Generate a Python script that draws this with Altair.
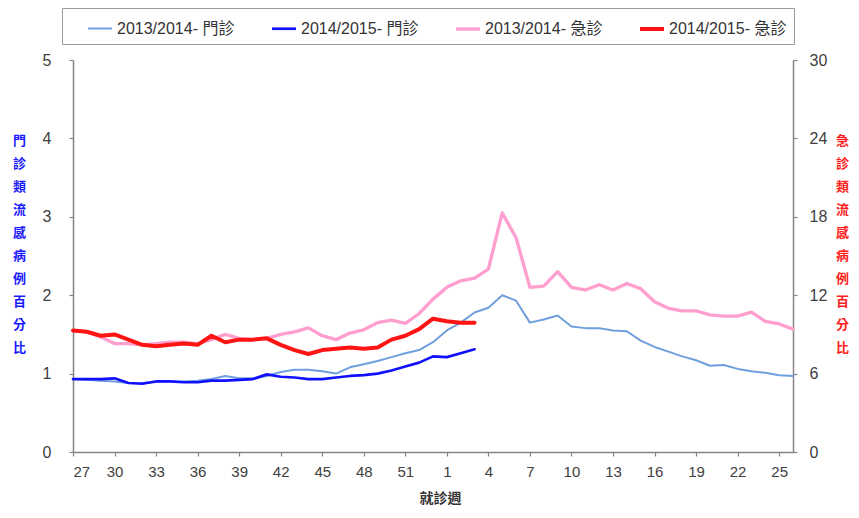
import altair as alt
import pandas as pd

# x positions: surveillance weeks 27..53 then 1..26
weeks = list(range(27, 54)) + list(range(1, 27))

# 2013/2014 outpatient (left axis, %)
op_1314 = [0.93, 0.92, 0.91, 0.90, 0.88, 0.88, 0.90, 0.90, 0.90, 0.91,
           0.93, 0.97, 0.94, 0.94, 0.97, 1.02, 1.05, 1.05, 1.03, 1.00,
           1.08, 1.12, 1.16, 1.21, 1.26, 1.30, 1.40, 1.55, 1.65, 1.78,
           1.84, 2.00, 1.93, 1.65, 1.69, 1.74, 1.60, 1.58, 1.58, 1.55,
           1.54, 1.42, 1.34, 1.28, 1.22, 1.17, 1.10, 1.11, 1.06, 1.03,
           1.01, 0.98, 0.97]
# 2014/2015 outpatient (left axis, %)
op_1415 = [0.93, 0.93, 0.93, 0.94, 0.88, 0.87, 0.90, 0.90, 0.89, 0.89,
           0.91, 0.91, 0.92, 0.93, 0.99, 0.96, 0.95, 0.93, 0.93, 0.95,
           0.97, 0.98, 1.00, 1.04, 1.09, 1.14, 1.22, 1.21, 1.26, 1.31]
# 2013/2014 A&E (right axis, %)
ae_1314 = [9.3, 9.2, 8.8, 8.3, 8.3, 8.2, 8.3, 8.4, 8.4, 8.3,
           8.6, 9.0, 8.7, 8.6, 8.7, 9.0, 9.2, 9.5, 8.9, 8.6,
           9.1, 9.35, 9.9, 10.1, 9.85, 10.6, 11.7, 12.6, 13.1, 13.3,
           14.0, 18.3, 16.4, 12.6, 12.7, 13.8, 12.6, 12.4, 12.8, 12.4,
           12.9, 12.5, 11.5, 11.0, 10.8, 10.8, 10.5, 10.4, 10.4, 10.7,
           10.0, 9.8, 9.4]
# 2014/2015 A&E (right axis, %)
ae_1415 = [9.3, 9.2, 8.9, 9.0, 8.6, 8.2, 8.1, 8.2, 8.3, 8.2,
           8.9, 8.4, 8.6, 8.6, 8.7, 8.2, 7.8, 7.5, 7.8, 7.9,
           8.0, 7.9, 8.0, 8.6, 8.9, 9.4, 10.2, 10.0, 9.9, 9.9]

series_names = ["2013/2014- 門診", "2014/2015- 門診", "2013/2014- 急診", "2014/2015- 急診"]
series_colors = ["#6f9fdc", "#1010ff", "#ff9fcf", "#ff1414"]
series_widths = [2, 4, 2, 4]

left_ticks = [0, 1, 2, 3, 4, 5]
right_ticks = [0, 6, 12, 18, 24, 30]
x_ticks = list(range(0, 53, 3))


def long(values, name):
    return [{"idx": i, "週": weeks[i], "系列": name, "值": v} for i, v in enumerate(values)]


left_df = pd.DataFrame(long(op_1314, series_names[0]) + long(op_1415, series_names[1]))
right_df = pd.DataFrame(long(ae_1314, series_names[2]) + long(ae_1415, series_names[3]))

LAT = "Liberation Sans, 'Noto Sans CJK TC'"
CJK = "'Noto Sans CJK TC', 'Noto Sans CJK SC'"

week_label_expr = "[" + ",".join(str(w) for w in weeks) + "][datum.value]"

x_enc = alt.X(
    "idx:Q",
    scale=alt.Scale(domain=[0, 52], nice=False, zero=False),
    axis=alt.Axis(
        values=x_ticks, labelExpr=week_label_expr, title="就診週",
        titleFont=CJK, titleFontSize=14, titleFontWeight="bold", titleColor="#333333",
        titleX=367, titleY=46, titleAlign="center", titleBaseline="middle",
        labelFontSize=15, tickSize=4, labelPadding=8, grid=False,
    ),
)

legend = alt.Legend(
    orient="none", legendX=-11, legendY=-52, direction="horizontal", columns=4,
    title=None, symbolType="stroke", symbolSize=576, labelFontSize=16,
    labelFont=LAT, labelColor="#333333", columnPadding=18, padding=7,
    symbolOffset=17, strokeColor="#9a9a9a", labelLimit=300, labelOffset=3,
)

color_enc = alt.Color("系列:N", scale=alt.Scale(domain=series_names, range=series_colors), legend=legend)
width_enc = alt.StrokeWidth("系列:N", scale=alt.Scale(domain=series_names, range=series_widths), legend=legend)

left = alt.Chart(left_df).mark_line(strokeJoin="round", strokeCap="round").encode(
    x=x_enc,
    y=alt.Y(
        "值:Q",
        scale=alt.Scale(domain=[0, 5], nice=False),
        axis=alt.Axis(
            orient="left", values=left_ticks, grid=False,
            title=list("門診類流感病例百分比"), titleFont=CJK, titleFontSize=13,
            titleFontWeight="bold", titleColor="#1a1aff", titleAngle=0,
            titleLineHeight=23, titleX=-54, titleY=80, titleAlign="center",
            titleBaseline="middle", labelFontSize=16, tickSize=4, labelPadding=18,
        ),
    ),
    color=color_enc,
    strokeWidth=width_enc,
    detail="系列:N",
)

right = alt.Chart(right_df).mark_line(strokeJoin="round", strokeCap="round").encode(
    x=x_enc,
    y=alt.Y(
        "值:Q",
        scale=alt.Scale(domain=[0, 30], nice=False),
        axis=alt.Axis(
            orient="right", values=right_ticks, grid=False,
            title=list("急診類流感病例百分比"), titleFont=CJK, titleFontSize=13,
            titleFontWeight="bold", titleColor="#ff2020", titleAngle=0,
            titleLineHeight=23, titleX=49, titleY=80, titleAlign="center",
            titleBaseline="middle", labelFontSize=16, tickSize=4, labelPadding=12,
        ),
    ),
    color=color_enc,
    strokeWidth=width_enc,
    detail="系列:N",
)

chart = alt.layer(left, right).resolve_scale(y="independent").properties(
    width=720, height=392,
    autosize=alt.AutoSizeParams(type="none"),
    padding={"left": 65, "top": 52, "right": 58, "bottom": 56},
).configure_view(stroke=None).configure_axis(
    domainColor="#858585", domainWidth=1.5, tickColor="#858585", tickWidth=1.2,
    labelFont=LAT, labelColor="#404040",
)

chart.save("out.html", embed_options={"renderer": "svg", "actions": False})
